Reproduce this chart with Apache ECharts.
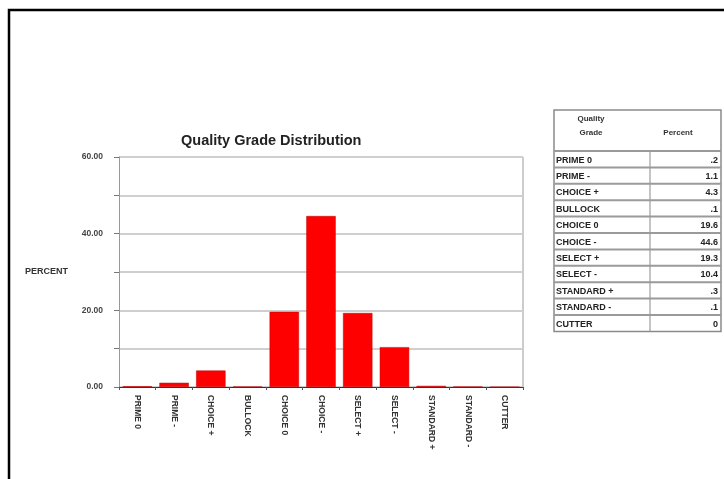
<!DOCTYPE html>
<html>
<head>
<meta charset="utf-8">
<script src="https://cdn.jsdelivr.net/npm/echarts@6/dist/echarts.min.js"></script>
<style>
  html, body { margin: 0; padding: 0; background: #fff; }
  #chart { width: 724px; height: 479px; }
</style>
</head>
<body>
<div id="chart"></div>
<script>
// data
var grades = ['PRIME 0', 'PRIME -', 'CHOICE +', 'BULLOCK', 'CHOICE 0', 'CHOICE -',
	'SELECT +', 'SELECT -', 'STANDARD +', 'STANDARD -', 'CUTTER'];
var percents = [0.2, 1.1, 4.3, 0.1, 19.6, 44.6, 19.3, 10.4, 0.3, 0.1, 0];
var yTicks = [0, 20, 40, 60];

var chart = echarts.init(document.getElementById('chart'));
var font = 'Liberation Sans, Arial, sans-serif';

function fmtPct(v) {
	var s = String(v);
	if (v > 0 && v < 1) s = s.substring(1);
	return s;
}

// table drawn as graphic elements, rows built from the arrays
var tX = 554, tY = 110, tW = 167, colX = 650, headH = 41, rowH = 16.4;
var tableEls = [];
tableEls.push({ type: 'rect', shape: { x: tX, y: tY, width: tW, height: headH + rowH * grades.length },
	style: { fill: '#fff', stroke: '#8a8a8a', lineWidth: 1.5 } });
tableEls.push({ type: 'line', shape: { x1: colX, y1: tY + headH, x2: colX, y2: tY + headH + rowH * grades.length },
	style: { stroke: '#8a8a8a', lineWidth: 1 } });
tableEls.push({ type: 'text', style: { x: 591, y: tY + 2, text: 'Quality\nGrade', align: 'center',
	verticalAlign: 'top', font: 'bold 8px ' + font, fill: '#333', lineHeight: 14 } });
tableEls.push({ type: 'text', style: { x: 678, y: tY + 23, text: 'Percent', align: 'center',
	verticalAlign: 'middle', font: 'bold 8px ' + font, fill: '#333' } });
for (var i = 0; i < grades.length; i++) {
	var ry = tY + headH + rowH * i;
	tableEls.push({ type: 'line', shape: { x1: tX, y1: ry, x2: tX + tW, y2: ry },
		style: { stroke: '#9a9a9a', lineWidth: 2 } });
	tableEls.push({ type: 'text', style: { x: tX + 2, y: ry + rowH / 2 + 1, text: grades[i], align: 'left',
		verticalAlign: 'middle', font: 'bold 9px ' + font, fill: '#222' } });
	tableEls.push({ type: 'text', style: { x: tX + tW - 3, y: ry + rowH / 2 + 1, text: fmtPct(percents[i]), align: 'right',
		verticalAlign: 'middle', font: 'bold 9px ' + font, fill: '#222' } });
}

var option = {
	backgroundColor: '#fff',
	animation: false,
	title: {
		text: 'Quality Grade Distribution',
		left: 176, top: 128,
		textStyle: { fontFamily: font, fontSize: 14.5, fontWeight: 'bold', color: '#222' }
	},
	grid: { left: 119, top: 157, width: 404, height: 230 },
	xAxis: {
		type: 'category',
		data: grades,
		axisLine: { lineStyle: { color: '#333', width: 1 } },
		axisTick: { show: true, length: 3, lineStyle: { color: '#555' } },
		axisLabel: { rotate: -90, margin: 8, fontFamily: font, fontSize: 8.5, fontWeight: 'bold', color: '#333', interval: 0 }
	},
	yAxis: {
		type: 'value',
		min: 0, max: 60, interval: 10,
		name: 'PERCENT',
		nameLocation: 'middle',
		nameRotate: 0,
		nameGap: 51,
		nameTextStyle: { fontFamily: font, fontSize: 9, fontWeight: 'bold', color: '#333' },
		axisLine: { show: true, lineStyle: { color: '#999', width: 1 } },
		axisTick: { show: true, length: 5, lineStyle: { color: '#777' } },
		axisLabel: {
			margin: 16, fontFamily: font, fontSize: 8.5, fontWeight: 'bold', color: '#444',
			formatter: function(v) { return yTicks.indexOf(v) >= 0 ? v.toFixed(2) : ''; }
		},
		splitLine: { lineStyle: { color: '#cfcfcf', width: 2 } }
	},
	series: [{
		type: 'bar',
		data: percents,
		barWidth: '80%',
		itemStyle: { color: '#ff0000', borderColor: '#c00000', borderWidth: 0.5 }
	}],
	graphic: [
		{ type: 'line', shape: { x1: 523, y1: 157, x2: 523, y2: 387 }, style: { stroke: '#bbb', lineWidth: 1.5 } },
		{ type: 'polyline', shape: { points: [[9, 479], [9, 10], [724, 10]] }, style: { stroke: '#000', lineWidth: 2.5, fill: null } }
	].concat(tableEls)
};

chart.setOption(option);
</script>
</body>
</html>
